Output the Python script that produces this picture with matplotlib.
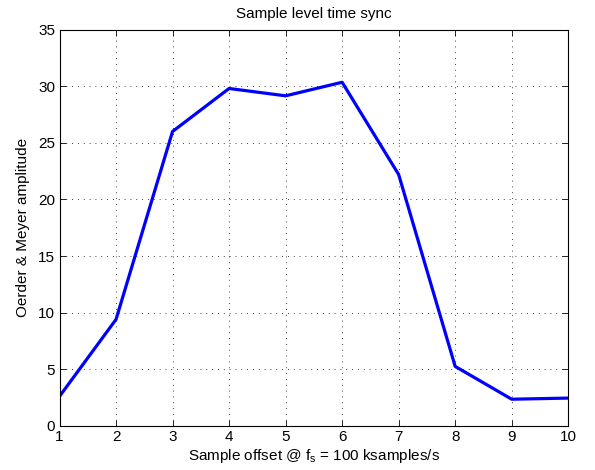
import matplotlib
matplotlib.use('Agg')
import matplotlib.pyplot as plt

# sample offsets and Oerder & Meyer amplitude
offset = [1, 2, 3, 4, 5, 6, 7, 8, 9, 10]
amplitude = [2.6, 9.4, 26.0, 29.8, 29.15, 30.35, 22.2, 5.25, 2.35, 2.45]

plt.rcParams['font.family'] = ['Liberation Sans', 'DejaVu Sans']
plt.rcParams['font.size'] = 11

fig = plt.figure(figsize=(5.95, 4.7), dpi=100)
ax = fig.add_axes([0.1, 0.094, 0.855, 0.843])

ax.plot(offset, amplitude, color=(0, 0, 1), linewidth=2.3)

ax.set_xlim(1, 10)
ax.set_ylim(0, 35)
ax.set_xticks(range(1, 11))
ax.set_yticks(range(0, 36, 5))
ax.tick_params(direction='in', top=True, right=True, length=4, width=0.6, labelsize=11, pad=3)
ax.grid(True, linestyle=(0, (1, 6)), color='black', linewidth=0.6)
for s in ax.spines.values():
    s.set_linewidth(0.8)

ax.set_title('Sample level time sync', fontsize=11, pad=8)
ax.set_xlabel('Sample offset @ $\\mathregular{f_s}$ = 100 ksamples/s', fontsize=11, labelpad=2)
ax.set_ylabel('Oerder & Meyer amplitude', fontsize=11, labelpad=6)

fig.savefig('out.png', dpi=100)
